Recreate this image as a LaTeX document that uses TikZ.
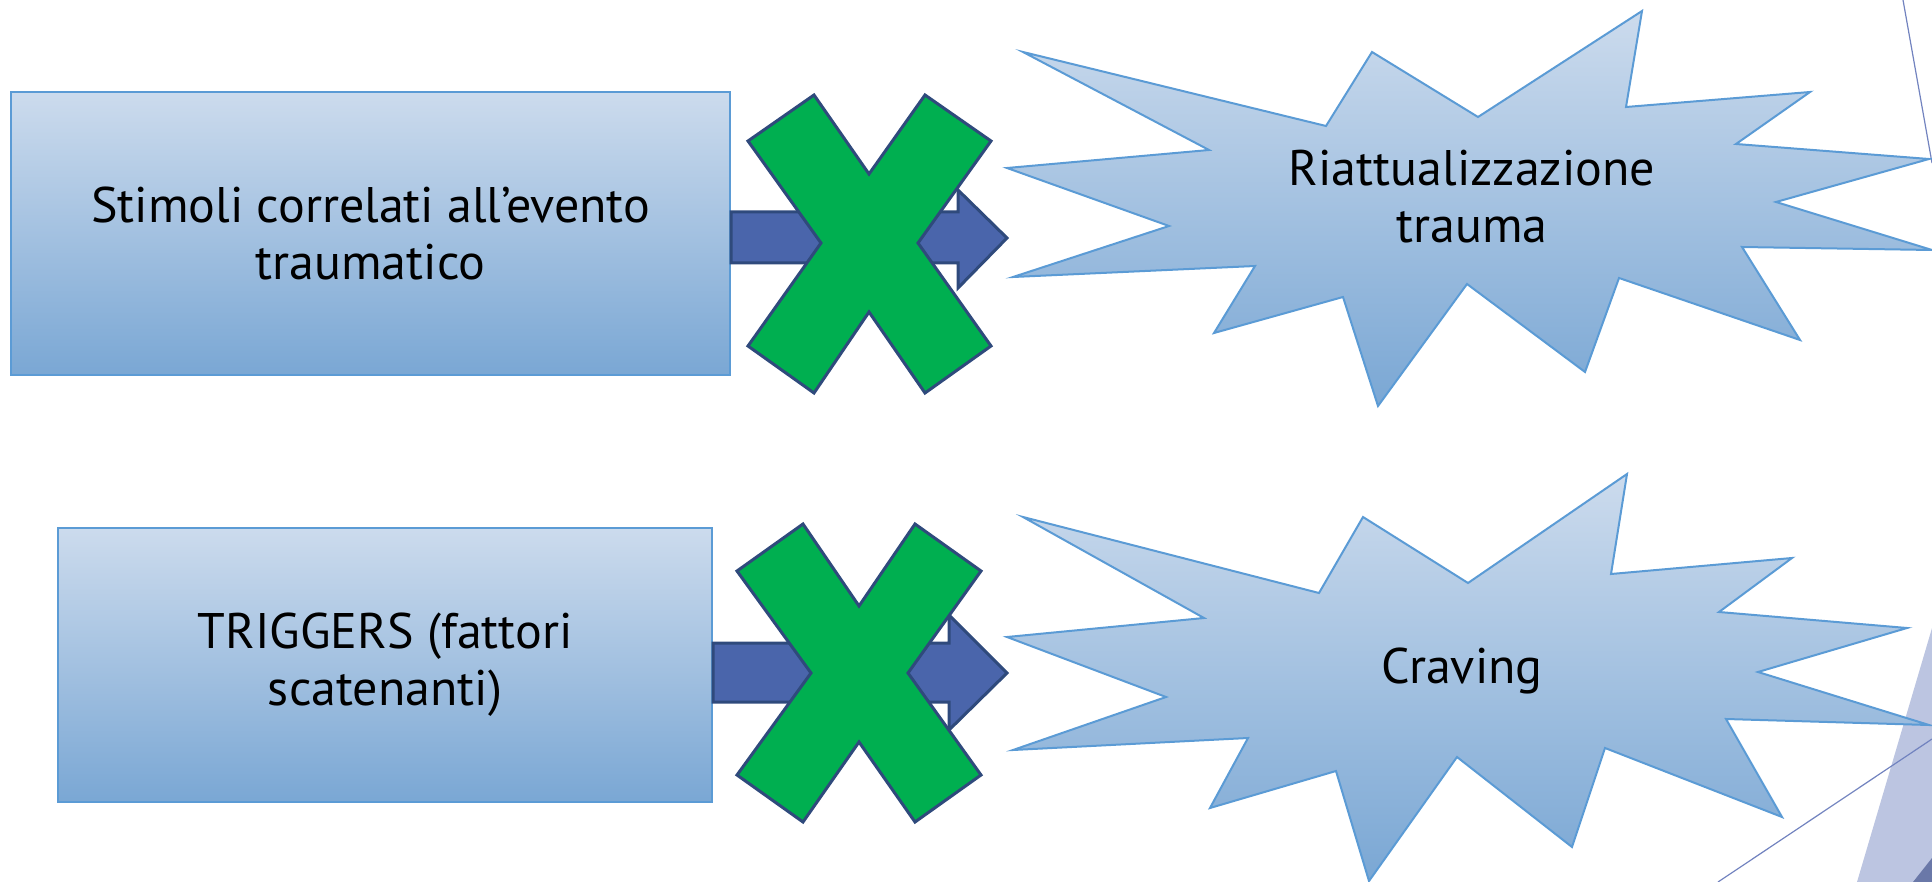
\documentclass[tikz,border=0pt]{standalone}
\usepackage{fontspec}
\setmainfont{PT Sans}
\usetikzlibrary{calc}
\definecolor{boxtop}{HTML}{CCDBED}
\definecolor{boxbot}{HTML}{7AA7D4}
\definecolor{boxline}{HTML}{5B9BD5}
\definecolor{arrowfill}{HTML}{4A65AB}
\definecolor{navy}{HTML}{2F4A7C}
\definecolor{xgreen}{HTML}{00AF50}
\definecolor{lav}{HTML}{BCC5E1}
\definecolor{lavline}{HTML}{7283BF}
\definecolor{darklav}{HTML}{6A78A8}
\tikzset{
  txt/.style={font=\fontsize{25}{28.5}\selectfont, align=center, text=black},
  boxnode/.style={txt, draw=boxline, line width=1pt, top color=boxtop, bottom color=boxbot, inner sep=0pt},
  starshape/.style={draw=boxline, line width=1pt, top color=boxtop, bottom color=boxbot, line join=miter},
  blockarrow/.style={fill=arrowfill, draw=navy, line width=1.5pt, line join=miter},
  cross/.style={fill=xgreen, draw=navy, line width=1.5pt, line join=miter},
  thinline/.style={draw=lavline, line width=0.6pt}
}
\begin{document}
\begin{tikzpicture}[x=0.5pt,y=-0.5pt]
\useasboundingbox (0,0) rectangle (1932,882);

% background decorations at right edge
\fill[lav] (1857,882) -- (1932,628) -- (1932,882) -- cycle;
\fill[darklav] (1913,882) -- (1932,858) -- (1932,882) -- cycle;
\coordinate (l1a) at (1903,0);
\coordinate (l1b) at (1932,163);
\coordinate (l2a) at (1718,882);
\coordinate (l2b) at (1932,739);
\draw[thinline] (l1a) -- (l1b);
\draw[thinline] (l2a) -- (l2b);

% boxes
\node[boxnode, minimum width=359.5pt, minimum height=141.5pt] (b1) at (370.5,233.5)
  {Stimoli correlati all’evento\\traumatico};
\node[boxnode, minimum width=327pt, minimum height=137pt] (b2) at (385,665)
  {TRIGGERS (fattori\\scatenanti)};

% block arrows
\draw[blockarrow] (b1.east |- 0,212) -- (958,212) -- (958,190) -- (1007,238)
  -- (958,288) -- (958,263) -- (b1.east |- 0,263) -- cycle;
\draw[blockarrow] (b2.east |- 0,643) -- (949,643) -- (949,615) -- (1007,673)
  -- (949,730) -- (949,702) -- (b2.east |- 0,702) -- cycle;

% crosses
\draw[cross] (748,141) -- (814,95) -- (869,174) -- (925,95) -- (991,141) -- (918,243)
  -- (991,346) -- (925,393) -- (869,312) -- (814,393) -- (748,346) -- (821,243) -- cycle;
\draw[cross] (737,571) -- (803,524) -- (859,606) -- (915,524) -- (981,571) -- (908,673)
  -- (981,775) -- (915,822) -- (859,742) -- (803,822) -- (737,775) -- (811,673) -- cycle;

% explosions
\path[starshape] (1023,52) -- (1326,126) -- (1372,52) -- (1478,117) -- (1642,11)
  -- (1626,107) -- (1810,92) -- (1736,144) -- (1929,159) -- (1776,202) -- (1932,250)
  -- (1742,247) -- (1800,340) -- (1619,278) -- (1585,372) -- (1467,284) -- (1378,406)
  -- (1343,297) -- (1214,333) -- (1255,266) -- (1013,277) -- (1169,226) -- (1007,168)
  -- (1209,150) -- cycle;
\path[starshape] (1023,517) -- (1319,593) -- (1363,517) -- (1468,583) -- (1627,474)
  -- (1611,574) -- (1792,558) -- (1719,612) -- (1907,628) -- (1758,672) -- (1929,725)
  -- (1726,719) -- (1782,817) -- (1605,748) -- (1572,847) -- (1457,757) -- (1369,881)
  -- (1336,771) -- (1210,808) -- (1248,738) -- (1013,750) -- (1166,697) -- (1007,637)
  -- (1204,618) -- cycle;

\node[txt, inner sep=0pt] (s1) at (1472,197) {Riattualizzazione\\trauma};
\node[txt, inner sep=0pt, anchor=base] (s2) at (1462,683) {Craving};
\end{tikzpicture}
\end{document}
